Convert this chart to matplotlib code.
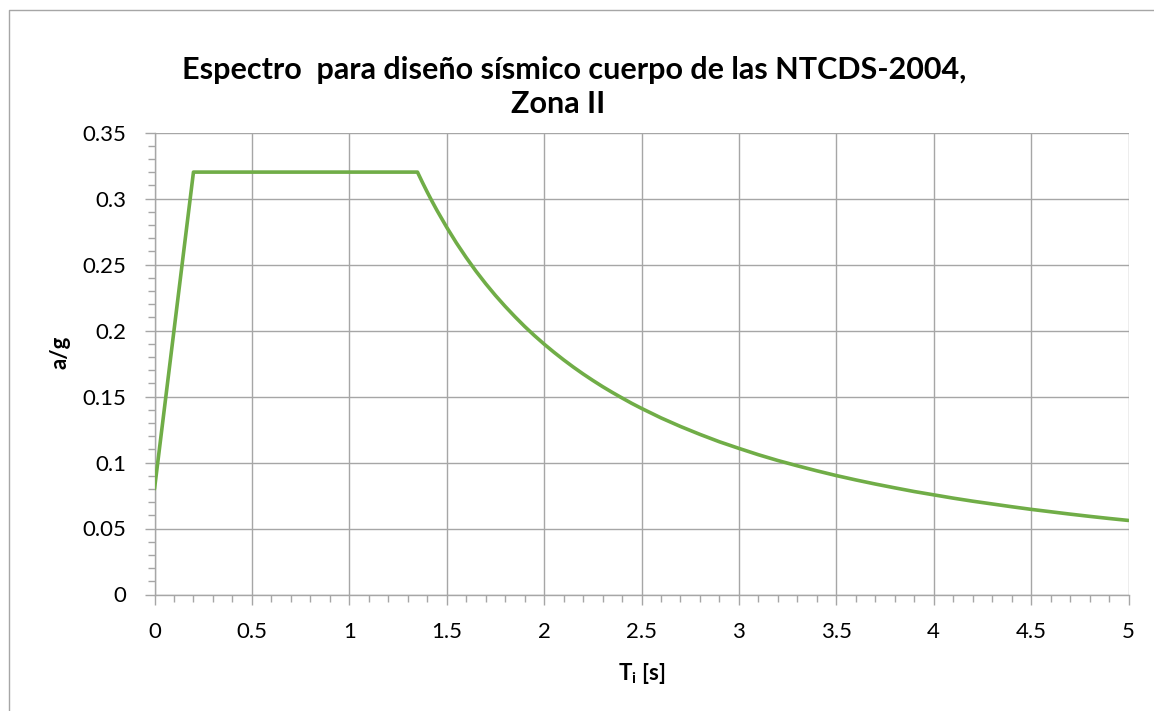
"""Espectro de diseño sísmico NTCDS-2004, Zona II - redrawn from the Excel chart."""
import matplotlib
matplotlib.use("Agg")
import matplotlib.pyplot as plt
from matplotlib.lines import Line2D
from matplotlib.ticker import MultipleLocator

GREEN, GRID, INK = "#70ad47", "#a6a6a6", "#000000"
W, H = 1154, 711

# periods (s) and ordinates a/g
T = [0.0, 0.2, 1.35, 1.375, 1.4, 1.425, 1.45, 1.5, 1.55, 1.6, 1.65, 1.7,
     1.75, 1.8, 1.85, 1.9, 1.95, 2.0, 2.05, 2.1, 2.15, 2.2, 2.25, 2.3, 2.35,
     2.4, 2.45, 2.5, 2.6, 2.7, 2.8, 2.9, 3.0, 3.1, 3.2, 3.3, 3.4, 3.5, 3.6,
     3.7, 3.8, 3.9, 4.0, 4.1, 4.2, 4.3, 4.4, 4.5, 4.6, 4.7, 4.8, 4.9, 5.0]
A = [0.0800, 0.3200, 0.3200, 0.3123, 0.3049, 0.2978, 0.2910, 0.2782, 0.2663,
     0.2553, 0.2450, 0.2355, 0.2266, 0.2183, 0.2105, 0.2031, 0.1962, 0.1897,
     0.1836, 0.1778, 0.1723, 0.1671, 0.1622, 0.1575, 0.1531, 0.1489, 0.1448,
     0.1410, 0.1338, 0.1273, 0.1213, 0.1157, 0.1107, 0.1059, 0.1015, 0.0975,
     0.0937, 0.0901, 0.0868, 0.0837, 0.0808, 0.0780, 0.0755, 0.0730, 0.0707,
     0.0686, 0.0665, 0.0645, 0.0627, 0.0609, 0.0592, 0.0576, 0.0561]

xticks = [0, 0.5, 1, 1.5, 2, 2.5, 3, 3.5, 4, 4.5, 5]
xlabels = ["0", "0.5", "1", "1.5", "2", "2.5", "3", "3.5", "4", "4.5", "5"]
yticks = [0, 0.05, 0.1, 0.15, 0.2, 0.25, 0.3, 0.35]
ylabels = ["0", "0.05", "0.1", "0.15", "0.2", "0.25", "0.3", "0.35"]

plt.rcParams["font.family"] = ["Lato", "DejaVu Sans"]

fig = plt.figure(figsize=(W / 100, H / 100), dpi=100)
fig.patch.set_facecolor("white")
# excel chart-area frame (only left and top edges fall inside the picture)
fig.add_artist(Line2D([8.5 / W, 8.5 / W, 1.0], [0.0, 1 - 10 / H, 1 - 10 / H],
                      transform=fig.transFigure, color=GRID, linewidth=1.0))

ax = fig.add_axes([154.5 / W, 1 - 594.5 / H, 974 / W, 462 / H])
ax.plot(T, A, color=GREEN, linewidth=2.6, solid_joinstyle="round",
        solid_capstyle="round", zorder=3)

ax.set_xlim(0, 5)
ax.set_ylim(0, 0.35)
ax.set_xticks(xticks)
ax.set_xticklabels(xlabels)
ax.set_yticks(yticks)
ax.set_yticklabels(ylabels)
ax.xaxis.set_minor_locator(MultipleLocator(0.1))
ax.yaxis.set_minor_locator(MultipleLocator(0.01))
ax.grid(True, which="major", color=GRID, linewidth=1.0, zorder=1)
ax.set_axisbelow(True)
for side in ("top", "right"):
    ax.spines[side].set_visible(False)
for side in ("left", "bottom"):
    ax.spines[side].set_color(GRID)
    ax.spines[side].set_linewidth(1.0)
ax.tick_params(which="major", length=7, width=1.0, color=GRID,
               labelsize=16, labelcolor=INK, pad=13)
ax.tick_params(which="minor", length=5, width=1.0, color=GRID)

fig.text(642 / W, 1 - 673 / H, r"T$_\mathregular{i}$ [s]", ha="center",
         va="center", fontsize=16, fontweight="bold")
fig.text(60 / W, 1 - 352 / H, "a/g", ha="center", va="center",
         rotation=90, fontsize=16, fontweight="bold")

fig.text(574 / W, 1 - 79 / H,
         "Espectro  para diseño sísmico cuerpo de las NTCDS-2004,",
         ha="center", va="baseline", fontsize=22, fontweight="bold")
fig.text(558 / W, 1 - 113 / H, "Zona II",
         ha="center", va="baseline", fontsize=22, fontweight="bold")

fig.savefig("out.png", dpi=100, facecolor="white")
